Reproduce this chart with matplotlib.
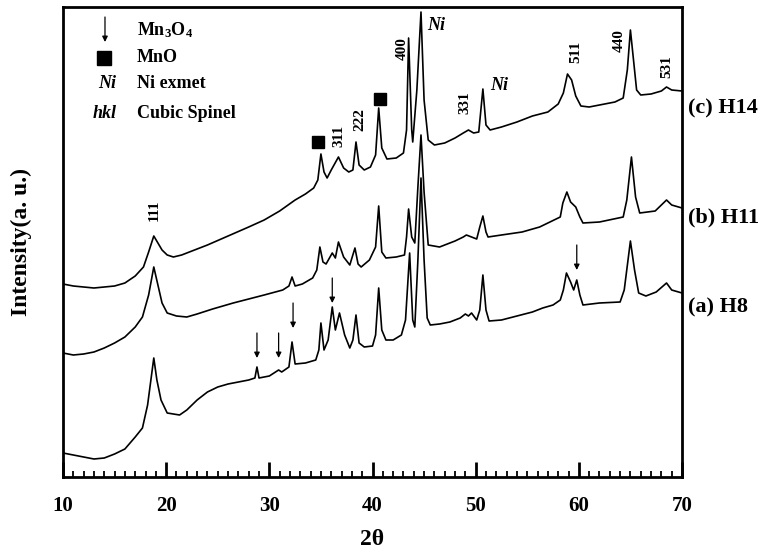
import matplotlib
matplotlib.use('Agg')
import matplotlib.pyplot as plt
from matplotlib.ticker import MultipleLocator

plt.rcParams['font.family'] = ['Liberation Serif', 'DejaVu Serif']
plt.rcParams['mathtext.fontset'] = 'custom'
plt.rcParams['mathtext.rm'] = 'Liberation Serif:bold'
plt.rcParams['mathtext.it'] = 'Liberation Serif:italic:bold'
plt.rcParams['mathtext.bf'] = 'Liberation Serif:bold'

# (c) H14
tth_c = [10, 11, 12, 13, 14, 15, 16, 17, 17.8, 18.3, 18.8, 19.2, 19.6, 20.1, 20.7, 21.5, 22.5, 24, 26, 28,
         29.5, 31, 32.5, 33.5, 34.3, 34.7, 35.0, 35.3, 35.6, 36.0, 36.7, 37.2, 37.7, 38.1, 38.4, 38.7, 39.2,
         39.8, 40.3, 40.6, 40.9, 41.4, 42.3, 43.0, 43.3, 43.5, 43.8, 43.9, 44.3, 44.7, 45.0, 45.4, 46, 47,
         48, 48.8, 49.3, 49.8, 50.3, 50.7, 51.0, 51.4, 52.5, 54, 55.5, 57, 58.0, 58.5, 58.9, 59.3, 59.7,
         60.2, 61, 62, 63.5, 64.3, 64.7, 65.0, 65.3, 65.6, 66, 67, 68, 68.5, 69, 70]
int_c = [193, 191, 190, 189, 190, 191, 194, 201, 210, 225, 241, 234, 227, 222, 220, 222, 226, 232, 241, 250,
         257, 266, 277, 283, 289, 297, 323, 305, 299, 307, 320, 309, 305, 307, 335, 312, 307,
         310, 322, 369, 329, 318, 319, 324, 347, 439, 347, 335, 387, 465, 377, 337, 332, 334,
         339, 344, 347, 344, 345, 388, 352, 347, 350, 355, 361, 365, 373, 384, 403, 397, 381,
         371, 370, 372, 375, 379, 407, 447, 417, 387, 382, 383, 386, 390, 387, 386]

# (b) H11
tth_b = [10, 11, 12, 13, 14, 15, 16, 17, 17.7, 18.3, 18.8, 19.2, 19.6, 20.1, 21, 22, 23, 24.5, 26.5, 28,
         29.5, 31.3, 31.9, 32.2, 32.5, 33.2, 34.2, 34.6, 34.9, 35.2, 35.5, 36.1, 36.4, 36.7, 37.2, 37.8,
         38.3, 38.6, 38.9, 39.7, 40.3, 40.6, 40.9, 41.3, 42.3, 43.1, 43.3, 43.5, 43.8, 44.1, 44.4, 44.7,
         45.0, 45.4, 46.5, 48, 48.8, 49.1, 49.6, 50.1, 50.4, 50.7, 51.0, 51.2, 52.5, 54.5, 56.2, 57.2,
         58.2, 58.45, 58.84, 59.2, 59.5, 59.7, 60.1, 60.4, 62.0, 64.3, 64.65, 65.1, 65.5, 65.9, 67.4,
         68.5, 69.0, 70]
int_b = [124, 122, 123, 125, 129, 134, 140, 150, 160, 182, 210, 192, 174, 164, 161, 160, 163, 168, 174, 178,
         182, 187, 191, 200, 191, 193, 199, 207, 230, 215, 213, 224, 219, 235, 220, 212,
         229, 213, 210, 217, 230, 271, 225, 219, 220, 222, 240, 268, 240, 234, 290, 342,
         285, 232, 230, 236, 240, 242, 240, 238, 250, 261, 245, 240, 242, 245, 250, 255,
         260, 274, 285, 275, 272, 270, 260, 254, 255, 260, 277, 320, 280, 264, 266,
         277, 272, 269]

# (a) H8
tth_a = [10, 11, 12, 13, 14, 15, 16, 17, 17.7, 18.2, 18.8, 19.1, 19.5, 20.1, 21.3, 22, 23, 24, 25, 26,
         27, 28, 28.6, 28.8, 29.0, 30, 30.9, 31.2, 31.9, 32.2, 32.5, 33.5, 34.5, 34.8, 35.0, 35.3, 35.7,
         36.1, 36.4, 36.8, 37.3, 37.8, 38.1, 38.4, 38.7, 39.2, 40.0, 40.3, 40.6, 40.9, 41.3, 42, 42.8,
         43.2, 43.6, 43.9, 44.1, 44.4, 44.7, 45.0, 45.3, 45.6, 46.5, 47.5, 48.5, 49.0, 49.3, 49.6, 50.1,
         50.4, 50.7, 51.0, 51.3, 52.5, 54, 55.5, 56.5, 57.5, 58.2, 58.5, 58.8, 59.2, 59.5, 59.8, 60.1,
         60.4, 62, 64.0, 64.4, 65.0, 65.4, 65.8, 66.5, 67.5, 68.5, 69, 70]
int_a = [24, 22, 20, 18, 19, 23, 28, 40, 49, 72, 119, 97, 77, 64, 62, 67, 77, 85, 90, 93,
         95, 97, 99, 110, 99, 101, 107, 105, 110, 135, 113, 114, 117, 127, 154, 127, 137,
         170, 147, 164, 142, 129, 137, 162, 134, 130, 131, 142, 189, 147, 137, 137, 142,
         157, 224, 157, 150, 217, 299, 217, 159, 152, 153, 155, 159, 163, 161, 164, 157,
         167, 202, 167, 156, 157, 161, 165, 169, 172, 177, 187, 204, 195, 187, 197, 182,
         172, 174, 175, 187, 236, 207, 184, 181, 185, 194, 187, 184]

# Mn3O4 arrows on H8 (position, arrow tip)
arrow_pos = [28.8, 30.9, 32.3, 36.1, 59.8]
arrow_tip = [119, 119, 149, 174, 207]

# cubic spinel reflections (label, 2theta, height)
hkl_lab = ['111', '311', '222', '400', '331', '511', '440', '531']
hkl_pos = [18.8, 36.7, 38.8, 42.9, 49.0, 59.7, 63.9, 68.5]
hkl_y = [267, 341, 357, 428, 374, 425, 436, 410]

mno_pos = [34.7, 40.7]
mno_y = [335, 378]
ni_pos = [45.3, 51.4]
ni_y = [452, 391]

names = ['(a) H8', '(b) H11', '(c) H14']
name_y = [170, 260, 369]

fig = plt.figure(figsize=(7.82, 5.54), dpi=100)
ax = fig.add_axes([63/782, 77/554, 619/782, 470/554])

for t, i in [(tth_a, int_a), (tth_b, int_b), (tth_c, int_c)]:
    ax.plot(t, i, color='black', lw=1.2)

for x, tip in zip(arrow_pos, arrow_tip):
    ax.annotate('', xy=(x, tip), xytext=(x, tip + 25),
                arrowprops=dict(arrowstyle='-|>', color='black', lw=0.9, mutation_scale=8,
                                shrinkA=0, shrinkB=0))

for lab, x, y in zip(hkl_lab, hkl_pos, hkl_y):
    ax.text(x, y, lab, rotation=90, ha='center', va='center', fontsize=11, fontweight='bold')

ax.plot(mno_pos, mno_y, 's', color='black', ms=8.5, ls='none')
for x, y in zip(ni_pos, ni_y):
    ax.text(x, y, 'Ni', ha='left', va='center', fontsize=13, fontweight='bold', style='italic')

# legend block
ax.annotate('', xy=(14.07, 435), xytext=(14.07, 460),
            arrowprops=dict(arrowstyle='-|>', color='black', lw=0.9, mutation_scale=8,
                            shrinkA=0, shrinkB=0))
ax.plot([13.98], [419], 's', color='black', ms=10.5)
ax.text(15.2, 394, 'Ni', ha='right', va='center', fontsize=13, fontweight='bold', style='italic')
ax.text(15.2, 364, 'hkl', ha='right', va='center', fontsize=13, fontweight='bold', style='italic')
ax.text(17.17, 447, r'Mn$_3$O$_4$', ha='left', va='center', fontsize=13, fontweight='bold')
ax.text(17.17, 419, 'MnO', ha='left', va='center', fontsize=13, fontweight='bold')
ax.text(17.17, 394, 'Ni exmet', ha='left', va='center', fontsize=13, fontweight='bold')
ax.text(17.17, 364, 'Cubic Spinel', ha='left', va='center', fontsize=13, fontweight='bold')

for n, y in zip(names, name_y):
    ax.text(70.6, y, n, ha='left', va='center', fontsize=16, fontweight='bold', clip_on=False)

ax.set_xlim(10, 70)
ax.set_ylim(0, 470)
ax.xaxis.set_major_locator(MultipleLocator(10))
ax.xaxis.set_minor_locator(MultipleLocator(1))
ax.tick_params(axis='x', which='major', direction='in', length=11, width=2, pad=14, labelsize=15)
ax.tick_params(axis='x', which='minor', direction='in', length=4, width=1.3)
ax.set_yticks([])
for lbl in ax.get_xticklabels():
    lbl.set_fontweight('bold')
for s in ax.spines.values():
    s.set_linewidth(2)

ax.set_xlabel('2θ', fontsize=17, fontweight='bold', labelpad=9)
ax.set_ylabel('Intensity(a. u.)', fontsize=17, fontweight='bold', labelpad=22)

fig.savefig('out.png', dpi=100)
